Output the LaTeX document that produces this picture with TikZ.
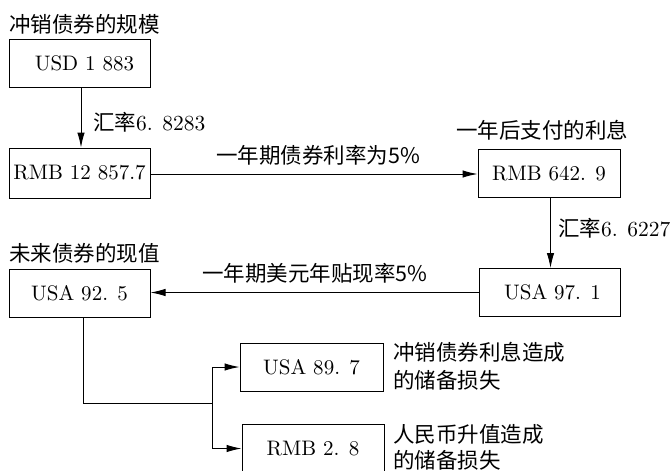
\documentclass[tikz,border=0pt]{standalone}
\usepackage{fontspec}
\newfontfamily\cjk{Noto Sans CJK SC}
\newfontfamily\boxfont{lmroman10-regular}[Extension=.otf]
\usetikzlibrary{arrows.meta}
\begin{document}
\begin{tikzpicture}[x=1pt,y=-1pt,
  valbox/.style={draw,line width=1pt,minimum width=141pt,minimum height=48pt,inner sep=0pt,
    font=\fontsize{21}{24}\selectfont\boxfont},
  cntext/.style={inner sep=0pt,font=\fontsize{21.5}{28}\selectfont\cjk},
  conn/.style={line width=1pt},
  arr/.style={conn,-{Latex[length=15pt,width=7.5pt]}}]
\clip (0,0) rectangle (670,471);
\fill[white] (0,0) rectangle (670,471);
% boxes
\node[valbox] (usd) at (79.5,63.5) {\hspace*{10pt}USD 1 883};
\node[valbox,minimum height=50pt] (rmb1) at (79.5,173) {RMB 12 857.7};
\node[valbox,minimum width=142pt] (rmb2) at (549,173.5) {RMB 642. 9};
\node[valbox] (usa971) at (549.5,292.5) {\hspace*{6pt}USA 97. 1};
\node[valbox] (usa925) at (79.5,293) {USA 92. 5};
\node[valbox,minimum width=143pt] (usa897) at (311.5,367) {USA 89. 7};
\node[valbox,minimum width=142pt] (rmb28) at (313,448.5) {RMB 2. 8};
% titles and labels
\node[cntext,anchor=west] (t1) at (9,24) {冲销债券的规模};
\node[cntext,anchor=west] (l1) at (93,122) {汇率{\boxfont 6. 8283}};
\node[cntext] (l2) at (318,155) {一年期债券利率为5\%};
\node[cntext] (t2) at (542,130) {一年后支付的利息};
\node[cntext,anchor=west] (l3) at (558,228) {汇率{\boxfont 6. 6227}};
\node[cntext,anchor=west] (t3) at (9,253) {未来债券的现值};
\node[cntext] (l4) at (315,273) {一年期美元年贴现率5\%};
\node[cntext,anchor=west,align=left] (d1) at (393,366) {冲销债券利息造成\\的储备损失};
\node[cntext,anchor=west,align=left,font=\fontsize{21.5}{26}\selectfont\cjk] (d2) at (393,447) {人民币升值造成\\的储备损失};
% connectors
\draw[arr] ([xshift=1.5pt]usd.south) -- ([xshift=1.5pt]rmb1.north);
\draw[arr] ([yshift=-1pt]rmb1.east) -- ([yshift=-1pt]rmb1.east -| rmb2.west);
\draw[arr] ([xshift=1.5pt]rmb2.south) -- ([xshift=1.5pt]rmb2.south |- usa971.north);
\draw[arr] (usa971.west) -- (usa971.west -| usa925.east);
\coordinate (j) at (212,403);
\draw[conn] ([xshift=3.5pt]usa925.south) |- (j);
\draw[arr] (j) |- (usa897.west);
\draw[arr] (j) |- (rmb28.west);
\end{tikzpicture}
\end{document}
